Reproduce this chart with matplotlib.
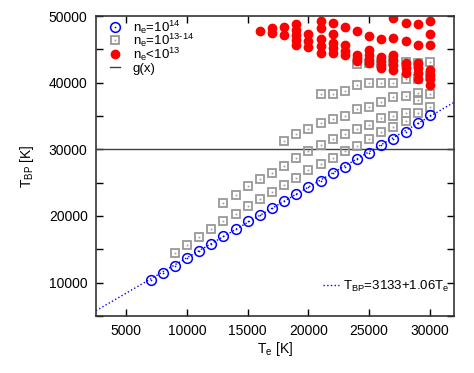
import numpy as np
import matplotlib.pyplot as plt

plt.rcParams['font.family'] = ['Liberation Sans', 'DejaVu Sans']
plt.rcParams['mathtext.fontset'] = 'custom'
plt.rcParams['mathtext.rm'] = 'Liberation Sans'
plt.rcParams['mathtext.it'] = 'Liberation Sans:italic'

# n_e = 1e14 (blue circles)
te_14 = [7000, 8000, 9000, 10000, 11000, 12000, 13000, 14000, 15000, 16000, 17000, 18000,
         19000, 20000, 21000, 22000, 23000, 24000, 25000, 26000, 27000, 28000, 29000, 30000]
tbp_14 = [10400, 11500, 12500, 13650, 14700, 15850, 17000, 18100, 19250, 20200, 21200, 22300,
          23300, 24400, 25300, 26400, 27400, 28500, 29400, 30600, 31500, 32650, 34000, 35200]

# n_e = 1e13-1e14 (gray squares), one row per density
te_s1 = [9000, 10000, 11000, 12000, 13000, 14000, 15000, 16000, 17000, 18000, 19000,
         20000, 21000, 22000, 23000, 24000, 25000, 26000, 27000, 28000, 29000, 30000]
tbp_s1 = [14400, 15700, 16800, 18100, 19200, 20300, 21500, 22600, 23600, 24600, 25700,
          26900, 27800, 28700, 29700, 30500, 31500, 32600, 33400, 34300, 35500, 36400]
te_s2 = [13000, 14000, 15000, 16000, 17000, 18000, 19000, 20000, 21000, 22000, 23000,
         24000, 25000, 26000, 27000, 28000, 29000]
tbp_s2 = [22000, 23150, 24500, 25550, 26500, 27550, 28700, 29700, 30600, 31500, 32300,
          33000, 33600, 34700, 35000, 35400, 37400]
te_s3 = [18000, 19000, 20000, 21000, 22000, 23000, 24000, 25000, 26000, 27000, 28000, 29000, 30000]
tbp_s3 = [31200, 32300, 33100, 34000, 34500, 35000, 36000, 36400, 37100, 37800, 38000, 38500, 38300]
te_s4 = [21000, 22000, 23000, 24000, 25000, 26000, 27000, 28000, 29000, 30000]
tbp_s4 = [38300, 38300, 38700, 39700, 39900, 39900, 39950, 40600, 40500, 41000]
te_s5 = [24000, 25000, 26000, 27000, 28000, 29000, 30000]
tbp_s5 = [42800, 43000, 43000, 43200, 43100, 42900, 43100]

# n_e < 1e13 (red dots)
te_13 = [16000, 17000, 17000, 18000, 18000,
         19000, 19000, 19000, 19000, 19000,
         20000, 20000, 20000,
         21000, 21000, 21000, 21000, 21000,
         22000, 22000, 22000, 22000, 22000,
         23000, 23000, 23000, 23000,
         24000, 24000, 24000, 24000,
         25000, 25000, 25000, 25000, 25000,
         26000, 26000, 26000, 26000, 26000,
         27000, 27000, 27000, 27000, 27000, 27000,
         28000, 28000, 28000, 28000, 28000,
         29000, 29000, 29000, 29000, 29000, 29000,
         30000, 30000, 30000, 30000, 30000, 30000, 30000]
tbp_13 = [47800, 48200, 47500, 48400, 47100,
          48800, 47900, 47200, 46400, 45700,
          47300, 46300, 45300,
          49300, 48200, 46500, 45500, 44400,
          49000, 47300, 45900, 45200, 44500,
          48400, 45700, 44700, 44200,
          47800, 44200, 43700, 43200,
          47000, 44900, 44200, 43400, 42900,
          46500, 43900, 43200, 42700, 42200,
          49700, 46700, 44200, 43400, 42700, 41900,
          49000, 46200, 42900, 42200, 41500,
          48800, 45600, 42900, 42200, 41500, 40500,
          49300, 47300, 45600, 41900, 41200, 40500, 39700]

fit_a, fit_b = 3133, 1.06
g_level = 30000

legend_labels = [r'n$_\mathrm{e}$=10$^{14}$', 'n$_\\mathrm{e}$=10$^{13\u201014}$',
                 r'n$_\mathrm{e}$<10$^{13}$', 'g(x)']
fit_label = r'T$_\mathrm{BP}$=3133+1.06T$_\mathrm{e}$'

blue = '#0000ff'
gray = '#999999'
red = '#ff0000'

fig = plt.figure(figsize=(4.74, 3.73), dpi=100)
ax = fig.add_axes([0.2025, 0.153, 0.7555, 0.804])

xfit = np.array([2500, 32000])
ax.plot(xfit, fit_a + fit_b * xfit, ls=':', color=blue, lw=1.0)
ax.axhline(g_level, color='#404040', lw=1.0)

sq_kw = dict(ls='none', marker='s', ms=6, mfc='none', mec=gray, mew=1.3)
for te, tb in [(te_s1, tbp_s1), (te_s2, tbp_s2), (te_s3, tbp_s3), (te_s4, tbp_s4), (te_s5, tbp_s5)]:
    ax.plot(te, tb, **sq_kw)
    ax.plot(te, tb, ls='none', marker='s', ms=1.2, mfc=gray, mec='none')

ax.plot(te_13, tbp_13, ls='none', marker='o', ms=6, mfc=red, mec=red)

ax.plot(te_14, tbp_14, ls='none', marker='o', ms=7, mfc='none', mec=blue, mew=1.1)
ax.plot(te_14, tbp_14, ls='none', marker='o', ms=1.2, mfc=blue, mec='none')

ax.set_xlim(2500, 32000)
ax.set_ylim(5000, 50000)
ax.set_xticks([5000, 10000, 15000, 20000, 25000, 30000])
ax.set_yticks([10000, 20000, 30000, 40000, 50000])
ax.set_yticks(np.arange(5000, 50001, 5000), minor=True)
ax.tick_params(direction='in', top=True, right=True, length=5, width=1, labelsize=10, pad=6)
ax.tick_params(which='minor', direction='in', right=True, length=5, width=1)
for s in ax.spines.values():
    s.set_linewidth(1.2)
    s.set_color('#333333')

ax.set_xlabel(r'T$_\mathrm{e}$ [K]', fontsize=10, labelpad=1)
ax.set_ylabel(r'T$_\mathrm{BP}$ [K]', fontsize=10, labelpad=9)

# key, top left
key_y = [0.963, 0.919, 0.874, 0.830]
mk = dict(transform=ax.transAxes, clip_on=False, ls='none')
ax.plot([0.053], [key_y[0]], marker='o', ms=7, mfc='none', mec=blue, mew=1.1, **mk)
ax.plot([0.053], [key_y[0]], marker='o', ms=1.2, mfc=blue, mec='none', **mk)
ax.plot([0.053], [key_y[1]], marker='s', ms=6, mfc='none', mec=gray, mew=1.3, **mk)
ax.plot([0.053], [key_y[1]], marker='s', ms=1.2, mfc=gray, mec='none', **mk)
ax.plot([0.053], [key_y[2]], marker='o', ms=6, mfc=red, mec=red, **mk)
ax.plot([0.040, 0.068], [key_y[3]] * 2, color='#404040', lw=1.0, transform=ax.transAxes)
for y, lab in zip(key_y, legend_labels):
    ax.text(0.103, y - 0.016, lab, transform=ax.transAxes, fontsize=9.5, va='baseline', ha='left')

# fit key, bottom right
ax.plot([0.635, 0.680], [0.103, 0.103], ls=':', color=blue, lw=1.0, transform=ax.transAxes)
ax.text(0.690, 0.103 - 0.016, fit_label, transform=ax.transAxes, fontsize=9.5,
        va='baseline', ha='left')

fig.savefig('out.png', dpi=100)
